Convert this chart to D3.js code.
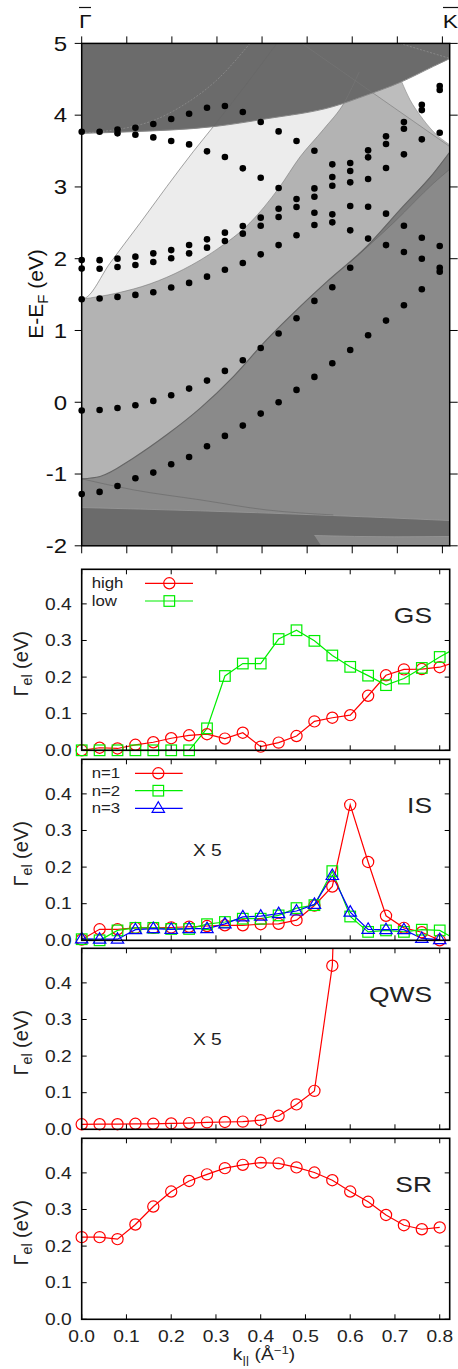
<!DOCTYPE html>
<html><head><meta charset="utf-8">
<script src="https://cdn.jsdelivr.net/npm/d3@7"></script>
<style>html,body{margin:0;padding:0;background:#fff;} svg{display:block;}</style>
</head><body>
<svg id="chart" width="458" height="1369"></svg>
<script>
// ---------------- DATA ----------------
const kGrid = [0.00,0.04,0.08,0.12,0.16,0.20,0.24,0.28,0.32,0.36,0.40,0.44,0.48,0.52,0.56,0.60,0.64,0.68,0.72,0.76,0.80,0.84];
const kTickLabels = ["0.0","0.1","0.2","0.3","0.4","0.5","0.6","0.7","0.8"];
const kTickValues = [0,0.1,0.2,0.3,0.4,0.5,0.6,0.7,0.8];
const gammaTickValues = [0,0.1,0.2,0.3,0.4];
const energyTicks = [5,4,3,2,1,0,-1,-2];
const kPointK = 0.806;   // K-bar position in the band panel

const gsHigh = [0.0,0.007,0.005,0.015,0.022,0.033,0.041,0.044,0.032,0.048,0.010,0.021,0.039,0.079,0.089,0.096,0.149,0.205,0.221,0.222,0.227,0.243];
const gsLow  = [0,0,0,0,0,0,0,0.060,0.203,0.237,0.237,0.304,0.328,0.299,0.259,0.228,0.204,0.178,0.196,0.225,0.255,0.282];
const isN1 = [0.002,0.030,0.030,0.034,0.034,0.035,0.037,0.039,0.041,0.041,0.044,0.045,0.055,0.095,0.147,0.370,0.214,0.067,0.034,0.022,0.000];
const isN2 = [0.003,0.000,0.027,0.034,0.034,0.031,0.031,0.044,0.050,0.059,0.059,0.068,0.088,0.096,0.189,0.065,0.023,0.027,0.023,0.029,0.027,0.000];
const isN3 = [0.004,0.003,0.003,0.029,0.032,0.030,0.032,0.032,0.045,0.064,0.066,0.073,0.080,0.098,0.177,0.077,0.030,0.029,0.029,0.005,0.002];
const qws  = [0.0136,0.014,0.014,0.015,0.015,0.016,0.017,0.019,0.020,0.021,0.025,0.037,0.068,0.105,0.447,1.9];
const sr   = [0.2245,0.2245,0.219,0.259,0.308,0.349,0.378,0.396,0.413,0.422,0.428,0.426,0.415,0.401,0.380,0.349,0.321,0.285,0.257,0.246,0.251];

// surface-state energies (eV) at each kGrid point
const surfaceStates = [
 [3.77,1.982,1.862,1.436,-0.115,-1.28],
 [3.77,1.98,1.86,1.445,-0.107,-1.249],
 [3.80,3.747,2.001,1.885,1.468,-0.079,-1.166],
 [3.825,3.728,2.029,1.913,1.496,-0.042,-1.059],
 [3.876,3.69,2.075,1.955,1.533,0.019,-0.98],
 [3.946,3.64,2.12,2.006,1.598,0.098,-0.864],
 [4.02,3.593,2.191,2.075,1.663,0.19,-0.762],
 [4.104,3.496,2.27,2.154,1.75,0.302,-0.613],
 [4.127,3.417,2.363,2.247,1.847,0.437,-0.469],
 [4.044,3.259,2.456,2.349,1.94,0.585,-0.325],
 [3.905,3.129,2.572,2.46,2.061,0.757,-0.158],
 [3.774,2.985,2.697,2.581,2.19,0.957,0.0],
 [3.64,2.832,2.72,2.326,1.17,0.172],
 [3.505,2.98,2.864,2.641,2.47,1.412,0.353],
 [3.315,3.138,3.017,2.618,2.507,1.602,0.543],
 [3.333,3.222,3.064,2.734,2.395,1.875,0.729],
 [3.51,3.412,3.11,2.725,2.28,0.934],
 [3.705,3.598,3.264,2.628,2.19,1.138],
 [3.904,3.81,3.454,2.46,2.094,1.352],
 [4.146,4.071,3.663,2.293,2.0,1.574],
 [4.406,4.35,3.756,2.177,1.875,1.82]
];

// projected bulk band boundaries [k, E]
const edgeTopDark  = [[0,3.747],[0.115,3.77],[0.294,3.84],[0.413,3.95],[0.562,4.12],[0.637,4.28],[0.711,4.455],[0.786,4.68],[0.823,4.79]];
const edgeWhite    = [[0,1.436],[0.007,1.449],[0.063,1.936],[0.130,2.493],[0.190,3.004],[0.249,3.49],[0.294,3.84],[0.369,4.44],[0.436,5.0]];
const edgeLight    = [[0,1.436],[0.078,1.52],[0.153,1.65],[0.227,1.85],[0.302,2.13],[0.376,2.5],[0.44,2.98],[0.488,3.42],[0.54,3.8],[0.588,4.19],[0.62,4.6]];
const edgeMedium   = [[0,-1.067],[0.041,-1.034],[0.115,-0.779],[0.190,-0.454],[0.265,-0.082],[0.339,0.358],[0.413,0.869],[0.488,1.333],[0.548,1.681],[0.637,2.17],[0.711,2.68],[0.786,3.19],[0.823,3.49]];
const edgeWedge    = [[0.60,1.95],[0.70,2.52],[0.786,3.05],[0.823,3.25]];
const edgeBand     = [[0,-1.467],[0.265,-1.513],[0.52,-1.568],[0.823,-1.648]];
const patchBottom  = [[0.52,-1.857],[0.70,-1.875],[0.823,-1.87]];
const lineLowSplit = [[0,-1.067],[0.115,-1.22],[0.265,-1.36],[0.413,-1.5],[0.562,-1.57]];
const lineDiagonal = [[0.492,5],[0.823,3.56]];
const edgeRightWhite = [[0.715,4.466],[0.734,4.21],[0.756,4.0],[0.786,3.77],[0.823,3.584]];
const faintLine1   = [[0,3.747],[0.153,3.91],[0.227,4.14],[0.302,4.49],[0.376,5]];
const faintLine2   = [[0.711,5],[0.823,4.79]];

// ---------------- LAYOUT ----------------
const SX = 1.2;
const FONT = '"Liberation Sans", Arial, Helvetica, sans-serif';
const svg = d3.select('#chart');
const x = d3.scaleLinear().domain([0, 0.8223]).range([81.7, 449.7]);
const yE = d3.scaleLinear().domain([-2, 5]).range([545.8, 43.4]);

function txt(sel, px, py, content, o = {}) {
  const sx = o.sx != null ? o.sx : SX;
  const g = sel.append('g').attr('transform', `translate(${px},${py}) scale(${sx},1)` + (o.rot ? ` rotate(${o.rot})` : ''));
  const t = g.append('text').attr('font-family', FONT).attr('font-size', o.size || 16)
    .attr('fill', o.fill || '#1a1a1a').attr('text-anchor', o.anchor || 'start');
  if (typeof content === 'string') t.text(content);
  else content.forEach(p => { const s = t.append('tspan').text(p.t); if (p.dy) s.attr('dy', p.dy); if (p.size) s.attr('font-size', p.size); });
  return t;
}

// ---------------- BAND PANEL ----------------
const defs = svg.append('defs');
defs.append('clipPath').attr('id', 'clipTop').append('rect')
  .attr('x', x(0)).attr('y', yE(5)).attr('width', x(0.8223) - x(0)).attr('height', yE(-2) - yE(5));

const bandG = svg.append('g').attr('clip-path', 'url(#clipTop)');
const lineGen = d3.line().x(d => x(d[0])).y(d => yE(d[1])).curve(d3.curveMonotoneX);
const P = (d) => `L${x(d[0])},${yE(d[1])}`;
function area(pts, closing) { return lineGen(pts) + closing.map(P).join('') + 'Z'; }

bandG.append('rect').attr('x', x(0)).attr('y', yE(5)).attr('width', x(0.8223) - x(0)).attr('height', yE(-2) - yE(5)).attr('fill', '#8a8a8a');
bandG.append('path').attr('d', area(edgeMedium, [[0.823, 5], [0, 5]])).attr('fill', '#b3b3b3');
bandG.append('path').attr('d', area(edgeLight, [[0.62, 5], [0, 5]])).attr('fill', '#ececec');
bandG.append('path').attr('d', area(edgeWhite, [[0, 5]])).attr('fill', '#ffffff');
bandG.append('path').attr('d', 'M' + x(lineDiagonal[0][0]) + ',' + yE(lineDiagonal[0][1]) + lineDiagonal.slice(1).map(P).join('') + P([0.823, 5]) + 'Z').attr('fill', '#bdbdbd');
bandG.append('path').attr('d', area(edgeRightWhite, [[0.823, 5], [0.715, 5]])).attr('fill', '#ffffff');
bandG.append('path').attr('d', area(edgeWedge, edgeMedium.slice().reverse().filter(d => d[0] >= 0.6))).attr('fill', '#7c7c7c');
bandG.append('path').attr('d', area(edgeTopDark, [[0.823, 5], [0, 5]])).attr('fill', '#6b6b6b');
bandG.append('path').attr('d', area(edgeBand, [[0.823, -2], [0, -2]])).attr('fill', '#6b6b6b');
bandG.append('path').attr('d', area(patchBottom, [[0.823, -2], [0.535, -2]])).attr('fill', '#8a8a8a');

const thin = (pts, col, w, dash) => { const p = bandG.append('path').attr('d', lineGen(pts)).attr('fill', 'none').attr('stroke', col).attr('stroke-width', w); if (dash) p.attr('stroke-dasharray', dash); };
thin(edgeWhite, '#666', 0.6);
thin(edgeLight, '#777', 0.6);
thin(edgeMedium, '#666', 1.2);
thin(edgeWedge, '#666', 0.6);
thin(edgeTopDark, '#888', 1.0);
thin(edgeBand, '#999', 0.8);
thin(patchBottom, '#999', 0.8);
thin(lineLowSplit, '#666', 0.6);
thin(lineDiagonal, '#777', 0.6);
thin(edgeRightWhite, '#888', 0.6);
thin(faintLine1, '#9a9a9a', 0.6, '2,1.5');
thin(faintLine2, '#9a9a9a', 0.6, '2,1.5');

// surface-state dots
const dots = [];
surfaceStates.forEach((arr, i) => arr.forEach(e => dots.push([kGrid[i], e])));
svg.append('g').selectAll('circle').data(dots).join('circle')
  .attr('cx', d => x(d[0])).attr('cy', d => yE(d[1])).attr('r', 3.3).attr('fill', '#000');

// frame + ticks
const frame = svg.append('g').attr('stroke', '#000').attr('fill', 'none');
frame.append('rect').attr('x', x(0)).attr('y', yE(5)).attr('width', x(0.8223) - x(0)).attr('height', yE(-2) - yE(5)).attr('stroke-width', 1.5);
const topTicks = d3.range(9).map(i => i * kPointK / 8);
topTicks.forEach(k => {
  frame.append('line').attr('x1', x(k)).attr('x2', x(k)).attr('y1', yE(5)).attr('y2', yE(5) - 7).attr('stroke-width', 1);
  frame.append('line').attr('x1', x(k)).attr('x2', x(k)).attr('y1', yE(-2)).attr('y2', yE(-2) + 7.5).attr('stroke-width', 1);
});
energyTicks.forEach(e => {
  frame.append('line').attr('x1', x(0)).attr('x2', x(0) - 7).attr('y1', yE(e)).attr('y2', yE(e)).attr('stroke-width', 1);
  frame.append('line').attr('x1', x(0.8223)).attr('x2', x(0.8223) + 8).attr('y1', yE(e)).attr('y2', yE(e)).attr('stroke-width', 1);
  txt(svg, 67, yE(e) + 7.3, String(e), { size: 20, anchor: 'end', fill: '#111' });
});
txt(svg, 79, 28.3, 'Γ', { size: 19, fill: '#111' });
svg.append('line').attr('x1', 79).attr('x2', 91).attr('y1', 7.5).attr('y2', 7.5).attr('stroke', '#111').attr('stroke-width', 1.2);
txt(svg, 442.7, 28.3, 'K', { size: 19, fill: '#111' });
svg.append('line').attr('x1', 443).attr('x2', 458).attr('y1', 7.5).attr('y2', 7.5).attr('stroke', '#111').attr('stroke-width', 1.2);
txt(svg, 43, 294, [{ t: 'E-E' }, { t: 'F', dy: 5, size: 15 }, { t: ' (eV)', dy: -5 }], { size: 21, anchor: 'middle', rot: -90, fill: '#111', sx: 1 });

// ---------------- RATE PANELS ----------------
const panelTops = [569.3, 759.3, 948.3, 1138.3];
const panelH = 181;
const gMax = 0.4945;
const panels = [
  { name: 'GS', series: [{ v: gsHigh, c: '#ff0000', m: 'circle' }, { v: gsLow, c: '#00ee00', m: 'square' }],
    legend: [{ t: 'high', c: '#ff0000', m: 'circle' }, { t: 'low', c: '#00ee00', m: 'square' }], legX: [145, 193, 169.3], legY: [583.3, 601] },
  { name: 'IS', series: [{ v: isN1, c: '#ff0000', m: 'circle' }, { v: isN2, c: '#00ee00', m: 'square' }, { v: isN3, c: '#0000ff', m: 'triangle' }],
    legend: [{ t: 'n=1', c: '#ff0000', m: 'circle' }, { t: 'n=2', c: '#00ee00', m: 'square' }, { t: 'n=3', c: '#0000ff', m: 'triangle' }], legX: [135, 182.7, 158.3], legY: [773.3, 790.7, 808.3], x5: true },
  { name: 'QWS', series: [{ v: qws, c: '#ff0000', m: 'circle' }], x5: true },
  { name: 'SR', series: [{ v: sr, c: '#ff0000', m: 'circle' }] }
];

function marker(g, m, cx, cy, c) {
  if (m === 'circle') g.append('circle').attr('cx', cx).attr('cy', cy).attr('r', 5.6).attr('fill', 'none').attr('stroke', c).attr('stroke-width', 1.2);
  else if (m === 'square') g.append('rect').attr('x', cx - 5.3).attr('y', cy - 5.3).attr('width', 10.6).attr('height', 10.6).attr('fill', 'none').attr('stroke', c).attr('stroke-width', 1.2);
  else g.append('path').attr('d', `M${cx},${cy - 6.5}L${cx + 6.2},${cy + 4}L${cx - 6.2},${cy + 4}Z`).attr('fill', 'none').attr('stroke', c).attr('stroke-width', 1.2);
}

panels.forEach((p, pi) => {
  const T = panelTops[pi], B = T + panelH;
  const y = d3.scaleLinear().domain([0, gMax]).range([B, T]);
  const g = svg.append('g');
  defs.append('clipPath').attr('id', 'clipP' + pi).append('rect').attr('x', x(0)).attr('y', T).attr('width', x(0.8223) - x(0)).attr('height', panelH);
  const lg = g.append('g').attr('clip-path', `url(#clipP${pi})`);
  const ln = d3.line().x((d, i) => x(kGrid[i])).y(d => y(d));
  p.series.forEach(s => {
    lg.append('path').attr('d', ln(s.v)).attr('fill', 'none').attr('stroke', s.c).attr('stroke-width', 1.2);
  });
  p.series.forEach(s => {
    const mg = g.append('g');
    s.v.forEach((v, i) => { if (kGrid[i] <= 0.81 && v <= gMax) marker(mg, s.m, x(kGrid[i]), y(v), s.c); });
  });
  const f = g.append('g').attr('stroke', '#000').attr('fill', 'none');
  f.append('rect').attr('x', x(0)).attr('y', T).attr('width', x(0.8223) - x(0)).attr('height', panelH).attr('stroke-width', 1.6);
  kTickValues.forEach(k => {
    f.append('line').attr('x1', x(k)).attr('x2', x(k)).attr('y1', B).attr('y2', B - 5).attr('stroke-width', 1);
    f.append('line').attr('x1', x(k)).attr('x2', x(k)).attr('y1', T).attr('y2', T + 5).attr('stroke-width', 1);
  });
  gammaTickValues.forEach(v => {
    f.append('line').attr('x1', x(0)).attr('x2', x(0) + 5).attr('y1', y(v)).attr('y2', y(v)).attr('stroke-width', 1);
    f.append('line').attr('x1', x(0.8223)).attr('x2', x(0.8223) - 5).attr('y1', y(v)).attr('y2', y(v)).attr('stroke-width', 1);
    txt(g, 71.7, y(v) + 5.7, v.toFixed(1), { size: 16, anchor: 'end', fill: '#222' });
  });
  txt(g, 28, (T + B) / 2 + 4, [{ t: 'Γ' }, { t: 'el', dy: 3.5, size: 14 }, { t: ' (eV)', dy: -3.5 }], { size: 20, anchor: 'middle', rot: -90, fill: '#222', sx: 1 });
  txt(g, 432, T + 54, p.name, { size: 22, anchor: 'end', fill: '#222' });
  if (p.x5) txt(g, 193, T + 97, 'X 5', { size: 16, fill: '#222' });
  if (p.legend) {
    p.legend.forEach((L, li) => {
      const ly = p.legY[li];
      txt(g, 91.7, ly + 5, L.t, { size: 14, fill: '#222' });
      g.append('line').attr('x1', p.legX[0]).attr('x2', p.legX[1]).attr('y1', ly).attr('y2', ly).attr('stroke', L.c).attr('stroke-width', 1.2);
      marker(g, L.m, p.legX[2], ly, L.c);
    });
  }
  if (pi === panels.length - 1) {
    kTickValues.forEach((k, ki) => txt(g, x(k), B + 22.4, kTickLabels[ki], { size: 16, anchor: 'middle', fill: '#222' }));
    txt(g, 264, 1360, [{ t: 'k' }, { t: '||', dy: 4, size: 11 }, { t: ' (Å', dy: -4 }, { t: '−1', dy: -6, size: 11 }, { t: ')', dy: 6 }], { size: 16, anchor: 'middle', fill: '#222' });
  }
});
</script>
</body></html>
